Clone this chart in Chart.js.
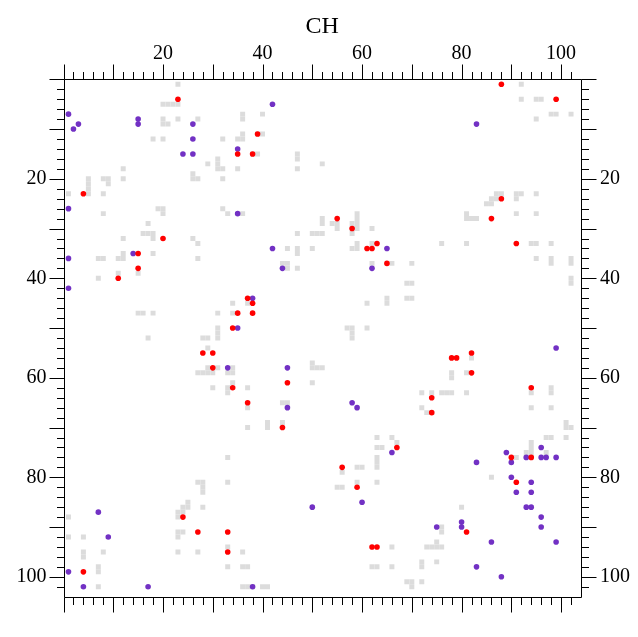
<!DOCTYPE html>
<html>
<head>
<meta charset="utf-8">
<script src="https://cdn.jsdelivr.net/npm/chart.js@4/dist/chart.umd.min.js"></script>
<style>
  html, body { margin: 0; padding: 0; background: #fff; overflow: hidden; }
  #wrap { width: 638px; height: 637px; }
</style>
</head>
<body>
<div id="wrap"><canvas id="contactMap" width="638" height="637"></canvas></div>
<script>
// Residue index range shown on both axes
const axisMin = 0;
const axisMax = 104;
const tickLabels = [20, 40, 60, 80, 100];
const minorStep = 2;
const majorStep = 10;

// Background contact cells (x = residue, y = residue)
const grayCells = [
  [23,1],[20,5],[21,5],[22,5],[23,5],[23,8],[27,8],[20,8],[20,9],[21,9],
  [18,12],[20,12],[32,12],[35,12],[29,17],[31,16],[31,17],[31,18],[32,18],[35,18],
  [12,18],[12,20],[26,19],[26,20],[27,20],[32,20],[8,20],[9,20],[9,21],
  [5,20],[5,21],[5,22],[5,23],[1,23],[8,23],
  [40,7],[36,7],[36,8],[39,11],[40,11],[36,11],[36,12],[38,15],[39,15],
  [47,15],[47,16],[47,18],[52,17],
  [92,1],[92,4],[95,4],[96,4],[98,7],[99,7],[102,7],[95,8],
  [87,23],[88,23],[91,23],[92,23],[95,23],
  [8,27],[19,26],[20,26],[20,27],[32,26],[33,27],[17,29],[16,31],[17,31],[18,31],[18,32],
  [12,32],[26,32],[27,33],[12,35],[11,36],[12,36],[7,36],[8,36],[18,35],[27,36],
  [15,39],[11,39],[7,40],[34,45],[15,47],[16,47],[18,47],[31,47],[34,47],[31,50],
  [36,27],[52,28],[52,29],[54,29],[55,29],[55,30],[58,29],[58,30],[58,31],
  [59,27],[59,28],[59,29],[59,30],[62,30],[47,31],[50,31],[51,31],[52,31],
  [45,34],[47,34],[47,35],[50,34],[59,33],[58,34],[59,34],[62,33],
  [44,37],[45,37],[45,38],[47,38],[62,37],[66,37],[70,37],[69,41],[70,41],
  [69,44],[70,44],[65,44],[65,45],[61,45],[37,45],[57,50],[58,50],[58,51],[61,50],
  [86,24],[87,24],[85,25],[86,25],[91,24],[81,27],[81,28],[82,28],[83,28],[91,27],[95,27],
  [76,33],[81,33],[94,33],[95,33],[98,33],[95,36],[98,36],[98,37],[102,36],[102,37],
  [102,40],[102,41],
  [17,52],[28,52],[29,52],[31,51],[31,52],[29,54],[29,58],[31,58],
  [27,59],[28,59],[29,59],[30,59],[34,58],[33,59],[34,59],[34,61],[33,62],[33,63],
  [30,62],[33,76],
  [58,52],[50,57],[50,58],[51,58],[52,58],[50,61],[37,62],[37,66],[44,65],[45,65],
  [37,70],[41,69],[41,70],[44,69],[63,72],[66,72],[63,74],[64,74],[67,73],
  [63,76],[63,77],[59,78],[60,78],
  [82,56],[78,59],[78,60],[81,59],[72,63],[74,63],[76,63],[77,63],[78,63],[81,63],
  [73,67],[74,67],[72,66],[94,63],[98,62],[98,63],[94,66],[98,66],
  [101,69],[101,70],[102,70],[97,72],[98,72],[101,72],[94,73],[94,74],
  [93,75],[94,75],[97,75],[91,76],[93,76],[94,76],
  [27,81],[28,81],[28,82],[28,83],[33,81],[25,85],[24,86],[25,86],[23,87],[24,87],
  [23,88],[28,86],[1,88],[23,91],[24,91],[23,92],[1,92],[4,92],[4,95],[4,96],
  [8,95],[23,95],[27,95],[33,94],[33,98],[7,98],[7,99],[7,102],
  [56,79],[63,78],[55,82],[56,82],[59,81],[63,81],[66,94],[36,95],[36,98],[37,98],
  [62,98],[63,98],[66,98],[36,102],[37,102],[38,102],[40,102],[41,102],
  [69,101],[70,101],[70,102],
  [86,80],[80,86],[76,90],[76,91],[75,93],[73,94],[74,94],[75,94],[76,94],
  [72,97],[72,98],[75,97],[72,101]
];

// Red contacts
const redContacts = [
  [23,4],[35,15],[4,23],[39,11],[38,15],[88,1],[99,4],[88,24],[20,32],[15,35],
  [15,38],[11,40],[34,50],[35,47],[55,28],[58,30],[61,34],[62,34],[63,33],[65,37],
  [37,44],[38,45],[38,47],[86,28],[91,33],[28,55],[30,55],[30,58],[34,62],[45,61],
  [37,65],[44,70],[67,74],[56,78],[78,56],[79,56],[82,55],[82,59],[74,64],[74,67],
  [94,62],[90,76],[94,76],[24,88],[27,91],[33,91],[33,95],[4,99],[59,82],[62,94],
  [63,94],[91,81],[81,91]
];

// Purple contacts
const purpleContacts = [
  [1,7],[2,10],[3,9],[15,8],[15,9],[26,9],[26,12],[24,15],[26,15],[35,14],
  [42,5],[83,9],[1,26],[35,27],[14,35],[1,36],[1,42],[35,50],[42,34],[65,34],
  [44,38],[62,38],[38,44],[33,58],[45,58],[45,66],[58,65],[59,66],[66,75],[99,54],
  [96,74],[89,75],[93,76],[96,76],[97,76],[99,76],[83,77],[90,77],[7,87],[9,92],
  [1,99],[4,102],[17,102],[38,102],[60,85],[50,86],[90,80],[94,81],[91,83],[94,83],
  [93,86],[94,86],[96,88],[80,89],[75,90],[80,90],[96,90],[86,93],[99,93],[83,98],
  [88,100]
];

const serif = "'Liberation Serif', 'Times New Roman', serif";
const toPoints = arr => arr.map(([x, y]) => ({ x, y }));

// one cell = one residue unit on the x scale
function cellRadius(ctx) {
  const s = ctx.chart.scales.x;
  return Math.abs(s.getPixelForValue(1) - s.getPixelForValue(0)) / Math.SQRT2;
}

// box frame with minor/major tick marks on all four sides
const frameTicks = {
  id: 'frameTicks',
  afterDraw(chart) {
    const { ctx, chartArea: a, scales: { x, y } } = chart;
    const L = Math.round(a.left) + 0.5, R = Math.round(a.right) + 0.5;
    const T = Math.round(a.top) + 0.5, B = Math.round(a.bottom) + 0.5;
    ctx.save();
    ctx.strokeStyle = '#000';
    ctx.lineWidth = 1;
    ctx.beginPath();
    ctx.rect(L, T, R - L, B - T);
    for (let v = axisMin; v < axisMax; v += minorStep) {
      const len = v % majorStep === 0 ? 15 : 7.5;
      const px = Math.round(x.getPixelForValue(v)) + 0.5;
      const py = Math.round(y.getPixelForValue(v)) + 0.5;
      ctx.moveTo(px, T); ctx.lineTo(px, T - len);
      ctx.moveTo(px, B); ctx.lineTo(px, B + len);
      ctx.moveTo(L, py); ctx.lineTo(L - len, py);
      ctx.moveTo(R, py); ctx.lineTo(R + len, py);
    }
    ctx.stroke();
    ctx.restore();
  }
};

const labelTicks = (pad) => ({
  stepSize: 20,
  includeBounds: false,
  autoSkip: false,
  maxRotation: 0,
  padding: pad,
  color: '#000',
  font: { family: serif, size: 20 },
  callback: v => tickLabels.includes(v) ? String(v) : ''
});

const hiddenGrid = (len) => ({ display: true, drawOnChartArea: false, drawTicks: true, tickLength: len, tickColor: 'rgba(0,0,0,0)' });

new Chart(document.getElementById('contactMap'), {
  type: 'scatter',
  data: {
    datasets: [
      {
        label: 'red',
        data: toPoints(redContacts),
        backgroundColor: '#ff0000',
        borderWidth: 0,
        pointRadius: 2.8
      },
      {
        label: 'purple',
        data: toPoints(purpleContacts),
        backgroundColor: '#7231c4',
        borderWidth: 0,
        pointRadius: 2.8
      },
      {
        label: 'cells',
        data: toPoints(grayCells),
        backgroundColor: '#dcdcdc',
        borderWidth: 0,
        pointStyle: 'rect',
        pointRadius: cellRadius
      }
    ]
  },
  options: {
    responsive: false,
    animation: false,
    events: [],
    layout: { padding: 0 },
    plugins: {
      legend: { display: false },
      tooltip: { enabled: false },
      title: { display: false }
    },
    scales: {
      x: {
        type: 'linear',
        position: 'top',
        min: axisMin,
        max: axisMax,
        grid: hiddenGrid(13),
        border: { display: false },
        ticks: labelTicks(1),
        title: {
          display: true,
          text: 'CH',
          color: '#000',
          font: { family: serif, size: 24 },
          padding: { top: 12, bottom: 0 }
        },
        afterFit: s => { s.height = 79.3; }
      },
      x2: {
        type: 'linear',
        position: 'bottom',
        min: axisMin,
        max: axisMax,
        grid: { display: false },
        border: { display: false },
        ticks: { display: false },
        afterFit: s => { s.height = 40.3; }
      },
      y: {
        type: 'linear',
        position: 'left',
        reverse: true,
        min: axisMin,
        max: axisMax,
        grid: hiddenGrid(15),
        border: { display: false },
        ticks: labelTicks(2),
        afterFit: s => { s.width = 63.5; }
      },
      y2: {
        type: 'linear',
        position: 'right',
        reverse: true,
        min: axisMin,
        max: axisMax,
        grid: hiddenGrid(15),
        border: { display: false },
        ticks: labelTicks(4),
        afterFit: s => { s.width = 57; }
      }
    }
  },
  plugins: [frameTicks]
});
</script>
</body>
</html>
